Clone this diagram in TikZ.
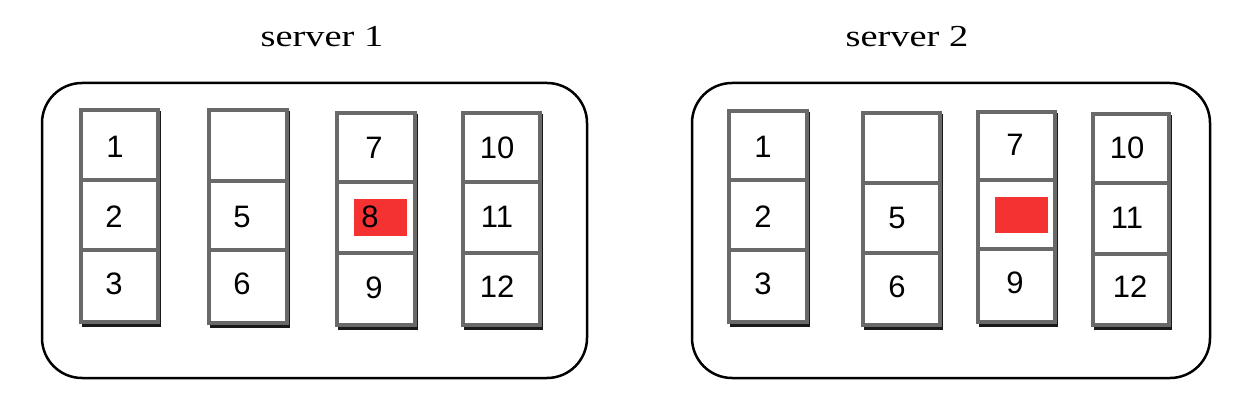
\documentclass[tikz,border=0pt]{standalone}
\usepackage{fontspec}
\setmainfont{Liberation Serif}
\newfontfamily\titlefont[FakeStretch=1.26]{Liberation Serif}
\newfontfamily\numfont{Liberation Sans}
\definecolor{cellgray}{RGB}{105,105,105}
\definecolor{hotred}{RGB}{245,50,50}
\tikzset{
  outerbox/.style={draw=black, line width=2.5pt, rounded corners=40pt},
  title/.style={font=\titlefont\fontsize{30.5}{36}\selectfont, inner sep=0pt, anchor=base},
  num/.style={font=\numfont\fontsize{31}{36}\selectfont, inner sep=0pt},
  colshadow/.style={fill=black!90},
  colbody/.style={draw=cellgray, fill=white, line width=3.5pt},
  divider/.style={draw=cellgray, line width=3.5pt},
  redmark/.style={fill=hotred, draw=none},
}
% \slotcol{x1}{x2}{ytop}{d1}{d2}{ybot}  (pixel coordinates, y downward)
\newcommand\slotcol[6]{%
  \fill[colshadow] (#1+1,#3+1) rectangle (#2+3,#6+5);
  \draw[colbody] (#1,#3) rectangle (#2,#6);
  \draw[divider] (#1,#4) -- (#2,#4);
  \draw[divider] (#1,#5) -- (#2,#5);
}
\begin{document}
\begin{tikzpicture}[x=1pt,y=-1pt]
\useasboundingbox[fill=white] (0,0) rectangle (1250,403);
% titles
\node[title] (t1) at (322,47) {server 1};
\node[title] (t2) at (907,47) {server 2};
% outer boxes
\draw[outerbox] (42,83) rectangle (587,378);
\draw[outerbox] (692,83) rectangle (1210,378);
% server 1 columns
\slotcol{81}{158}{110}{180}{250}{322}
\slotcol{209}{287}{110}{181}{250}{323}
\slotcol{337}{415}{113}{182}{253}{325}
\slotcol{463}{540}{113}{182}{253}{325}
\fill[redmark] (354,199) rectangle (407,236);
% server 2 columns
\slotcol{729}{807}{111}{180}{250}{322}
\slotcol{863}{940}{113}{183}{253}{325}
\slotcol{978}{1055}{112}{180}{249}{322}
\slotcol{1093}{1169}{114}{183}{254}{325}
\fill[redmark] (995,197) rectangle (1048,233);
% server 1 numbers
\node[num] (a1) at (115,147) {1};
\node[num] (a2) at (114,217) {2};
\node[num] (a3) at (114,284) {3};
\node[num] (a5) at (242,217) {5};
\node[num] (a6) at (242,284) {6};
\node[num] (a7) at (374,148) {7};
\node[num] (a8) at (370,217) {8};
\node[num] (a9) at (374,288) {9};
\node[num] (a10) at (497,148) {10};
\node[num] (a11) at (497,217) {11};
\node[num] (a12) at (497,287) {12};
% server 2 numbers
\node[num] (b1) at (763,147) {1};
\node[num] (b2) at (763,217) {2};
\node[num] (b3) at (763,284) {3};
\node[num] (b5) at (897,218) {5};
\node[num] (b6) at (897,287) {6};
\node[num] (b7) at (1015,145) {7};
\node[num] (b9) at (1015,283) {9};
\node[num] (b10) at (1127,148) {10};
\node[num] (b11) at (1127,218) {11};
\node[num] (b12) at (1130,287) {12};
\end{tikzpicture}
\end{document}
